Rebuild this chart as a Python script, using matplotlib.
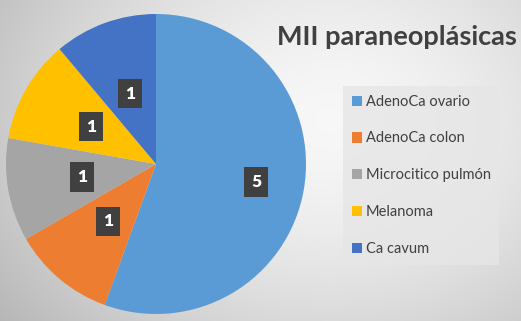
import numpy as np
import matplotlib.pyplot as plt
from matplotlib.patches import Patch

categorias = ['AdenoCa ovario', 'AdenoCa colon', 'Microcitico pulmón', 'Melanoma', 'Ca cavum']
valores = [5, 1, 1, 1, 1]
colores = ['#5B9BD5', '#ED7D31', '#A5A5A5', '#FFC000', '#4472C4']
titulo = 'MII paraneoplásicas'

plt.rcParams['font.family'] = ['Lato', 'DejaVu Sans']

W, H = 521, 321
fig = plt.figure(figsize=(W / 100, H / 100), dpi=100)

# fondo con degradado radial gris
bg = fig.add_axes([0, 0, 1, 1])
yy, xx = np.mgrid[0:H, 0:W]
d = np.sqrt(((xx - 330) / 380.0) ** 2 + ((yy - 120) / 300.0) ** 2)
g = np.clip(0.97 - 0.22 * d ** 1.6, 0.7, 1)
bg.imshow(np.dstack([g, g, g]), extent=[0, 1, 0, 1], aspect='auto', origin='upper')
bg.axis('off')

# pastel
ax = fig.add_axes([6 / W, 7 / H, 300 / W, 300 / H])
wedges, _ = ax.pie(valores, colors=colores, startangle=90, counterclock=False,
                   wedgeprops=dict(linewidth=0))
ax.set_xlim(-1, 1)
ax.set_ylim(-1, 1)
ax.set_aspect('equal')

distancias = [0.68, 0.5, 0.5, 0.5, 0.5]
for w, v, dist in zip(wedges, valores, distancias):
    ang = np.deg2rad((w.theta1 + w.theta2) / 2)
    ax.text(dist * np.cos(ang), dist * np.sin(ang), str(v), ha='center', va='center',
            fontsize=12.5, fontweight='heavy', color='white',
            bbox=dict(boxstyle='square,pad=0.4', facecolor='#404040', edgecolor='none'))

fig.text(397 / W, 1 - 37 / H, titulo, ha='center', va='center', fontsize=19.5,
         fontweight='bold', color='#404040')

handles = [Patch(facecolor=c, edgecolor='none') for c in colores]
leg = fig.legend(handles, categorias, loc='upper left',
                 bbox_to_anchor=(343 / W, 1 - 86 / H), frameon=True, fancybox=False,
                 fontsize=10.5, labelspacing=1.56, handlelength=0.7, handleheight=0.7,
                 handletextpad=0.25, borderpad=0.6, borderaxespad=0, labelcolor='#404040')
leg.get_frame().set_facecolor('#e6e6e6')
leg.get_frame().set_edgecolor('none')
leg.get_frame().set_alpha(0.8)

fig.savefig('out.png', dpi=100)
